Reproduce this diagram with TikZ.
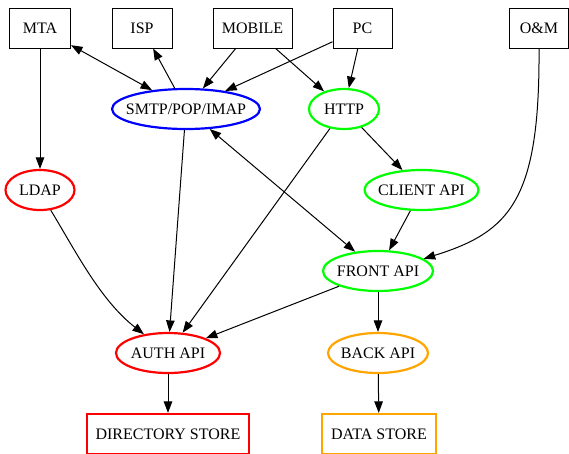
\documentclass[tikz,border=0pt]{standalone}
\usepackage{fontspec}
\setmainfont{Liberation Serif}
\usetikzlibrary{shapes.geometric,arrows.meta}
\definecolor{gvblue}{RGB}{0,0,255}
\definecolor{gvred}{RGB}{255,0,0}
\definecolor{gvgreen}{RGB}{0,255,0}
\definecolor{gvorange}{RGB}{255,165,0}
\newcommand\gvtext[1]{\hbox to 0pt{\hss#1\hss}}
\begin{document}
\begin{tikzpicture}[x=1pt,y=-1pt,
  every node/.style={font=\fontsize{16pt}{18pt}\selectfont, inner sep=0pt},
  box/.style={draw, line width=1pt, rectangle, minimum height=40pt},
  cbox/.style={draw=#1, line width=2.2pt, rectangle, minimum height=40pt},
  ell/.style={draw=#1, line width=2.2pt, ellipse, minimum height=40pt},
  conn/.style={line width=1pt, -{Triangle[length=11.5pt,width=8.5pt]}},
  biconn/.style={line width=1pt, {Triangle[length=11.5pt,width=8.5pt]}-{Triangle[length=11.5pt,width=8.5pt]}},
]
\useasboundingbox (0,0) rectangle (569,453);
\clip (0,0) rectangle (569,453);
% top row
\node[box, minimum width=61pt] (mta) at (40,28) {MTA};
\node[box, minimum width=60pt] (isp) at (142,28) {ISP};
\node[box, minimum width=79pt] (mobile) at (252.5,28) {MOBILE};
\node[box, minimum width=59pt] (pc) at (362.5,28) {PC};
\node[box, minimum width=59pt] (om) at (539,28) {O\&M};
% second row
\node[ell=gvblue, minimum width=148pt] (smtp) at (186,109) {\gvtext{SMTP/POP/IMAP}};
\node[ell=gvgreen, minimum width=70pt] (http) at (344,109) {\gvtext{HTTP}};
% third row
\node[ell=gvred, minimum width=69pt] (ldap) at (40,190) {\gvtext{LDAP}};
\node[ell=gvgreen, minimum width=114pt] (client) at (421.5,190) {\gvtext{CLIENT API}};
% fourth row
\node[ell=gvgreen, minimum width=110pt] (front) at (378,271) {\gvtext{FRONT API}};
% fifth row
\node[ell=gvred, minimum width=104pt] (auth) at (168,353) {\gvtext{AUTH API}};
\node[ell=gvorange, minimum width=100pt] (back) at (378,353) {\gvtext{BACK API}};
% bottom row
\node[cbox=gvred, minimum width=162pt] (dir) at (168,434) {DIRECTORY STORE};
\node[cbox=gvorange, minimum width=114pt] (data) at (379,434) {DATA STORE};
% connectors
\draw[biconn] (mta) -- (smtp);
\draw[conn] (smtp) -- (isp);
\draw[conn] (mobile) -- (smtp);
\draw[conn] (mobile) -- (http);
\draw[conn] (pc) -- (smtp);
\draw[conn] (pc) -- (http);
\draw[conn] (mta) -- (ldap);
\draw[conn] (smtp) -- (auth);
\draw[biconn] (smtp) -- (front);
\draw[conn] (http) -- (client);
\draw[conn] (http) -- (auth);
\draw[conn] (client) -- (front);
\draw[conn] (om.south) .. controls (540,200) and (510,232) .. (front.15);
\draw[conn] (ldap.-62) .. controls (75,250) and (100,300) .. (auth.142);
\draw[conn] (front) -- (auth);
\draw[conn] (front) -- (back);
\draw[conn] (auth) -- (dir);
\draw[conn] (back) -- (data);
\end{tikzpicture}
\end{document}
